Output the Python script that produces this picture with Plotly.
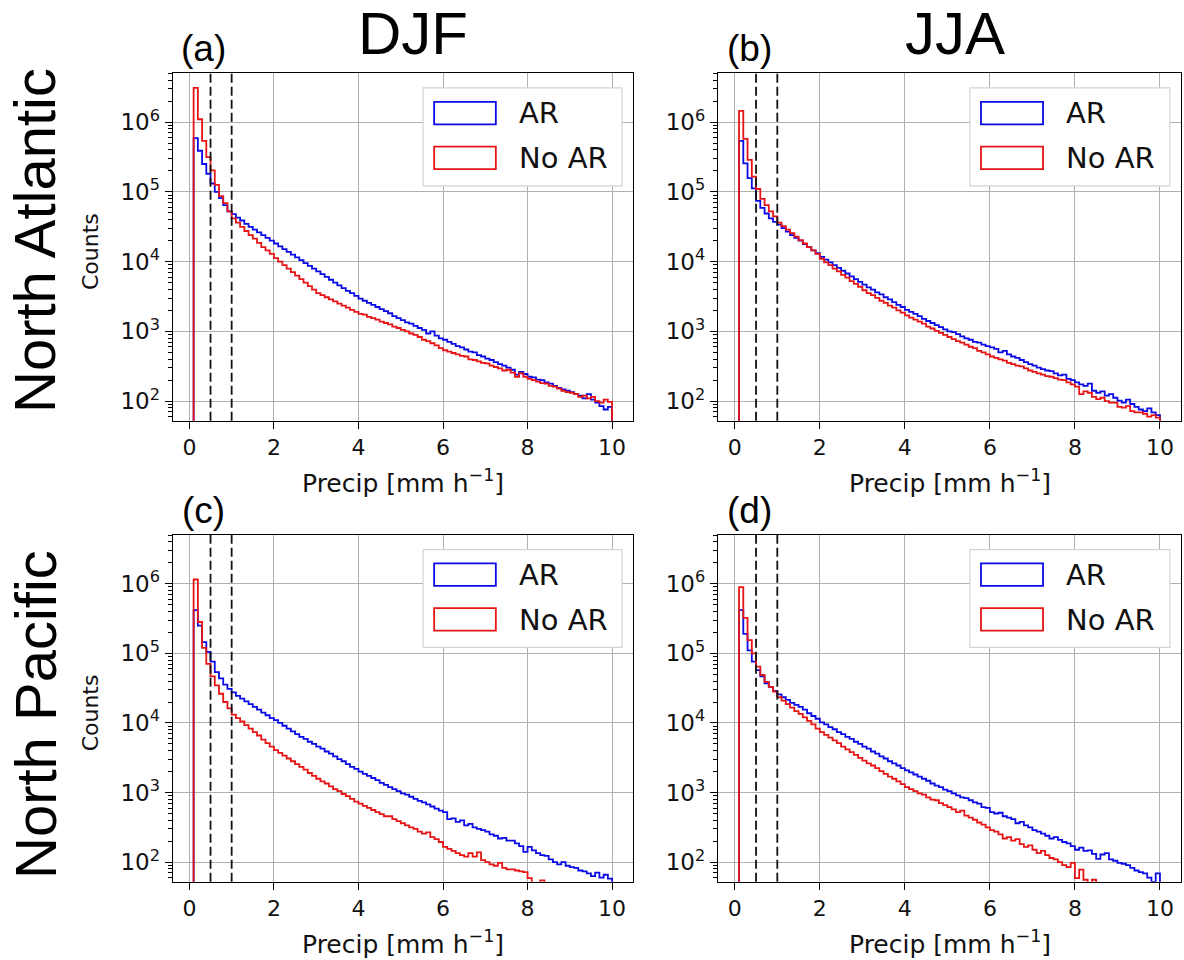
import plotly.graph_objects as go

# ---------------- data (counts per 0.1 mm/h bin, bins from 0.1 to 10.0) ----------------
bin_start = 0.1
bin_width = 0.1
thresholds = [0.5, 1.0]
panel_letters = ["(a)", "(b)", "(c)", "(d)"]
season_titles = ["DJF", "JJA"]
region_titles = ["North Atlantic", "North Pacific"]
series_names = ["AR", "No AR"]
x_tick_vals = [0, 2, 4, 6, 8, 10]
y_tick_vals = [1e2, 1e3, 1e4, 1e5, 1e6]
y_tick_text = ["10<sup>2</sup>", "10<sup>3</sup>", "10<sup>4</sup>", "10<sup>5</sup>", "10<sup>6</sup>"]

na_djf_ar = [5.89e5, 3.89e5, 2.51e5, 1.82e5, 1.32e5, 1.00e5, 8.13e4, 6.46e4, 5.25e4, 4.79e4,
             4.27e4, 3.89e4, 3.47e4, 3.16e4, 2.88e4, 2.63e4, 2.40e4, 2.19e4, 2.00e4, 1.82e4,
             1.66e4, 1.51e4, 1.38e4, 1.26e4, 1.15e4, 1.05e4, 9.55e3, 8.71e3, 7.94e3, 7.24e3,
             6.61e3, 6.03e3, 5.50e3, 5.01e3, 4.57e3, 4.17e3, 3.80e3, 3.55e3, 3.24e3, 2.95e3,
             2.75e3, 2.57e3, 2.40e3, 2.24e3, 2.09e3, 1.95e3, 1.82e3, 1.66e3, 1.55e3, 1.45e3,
             1.35e3, 1.29e3, 1.20e3, 1.12e3, 1.05e3, 933, 1000, 871, 794, 759,
             708, 661, 617, 589, 550, 513, 501, 457, 437, 407,
             389, 363, 339, 324, 302, 282, 240, 263, 245, 224,
             219, 204, 200, 186, 178, 166, 155, 148, 141, 135,
             126, 120, 110, 126, 105, 95, 85, 76, 83]
na_djf_noar = [3.09e6, 1.10e6, 5.37e5, 3.16e5, 2.04e5, 1.26e5, 8.71e4, 6.92e4, 5.25e4, 4.17e4,
               3.63e4, 3.16e4, 2.75e4, 2.40e4, 2.14e4, 1.86e4, 1.62e4, 1.45e4, 1.29e4, 1.12e4,
               1.00e4, 8.91e3, 7.94e3, 7.08e3, 6.31e3, 5.62e3, 5.01e3, 4.47e3, 3.98e3, 3.55e3,
               3.31e3, 3.09e3, 2.88e3, 2.69e3, 2.51e3, 2.34e3, 2.19e3, 2.04e3, 1.91e3, 1.78e3,
               1.74e3, 1.62e3, 1.55e3, 1.48e3, 1.38e3, 1.32e3, 1.26e3, 1.17e3, 1.12e3, 1.05e3,
               1000, 933, 891, 832, 759, 724, 676, 631, 575, 537,
               513, 490, 468, 447, 437, 398, 389, 372, 355, 347,
               324, 309, 295, 275, 282, 257, 224, 251, 224, 209,
               200, 191, 182, 178, 166, 162, 151, 141, 135, 132,
               126, 115, 120, 110, 115, 100, 95, 105, 98]
na_jja_ar = [5.37e5, 2.57e5, 1.58e5, 1.12e5, 7.41e4, 5.89e4, 4.90e4, 4.17e4, 3.72e4, 3.39e4,
             3.02e4, 2.69e4, 2.40e4, 2.19e4, 2.00e4, 1.78e4, 1.62e4, 1.45e4, 1.32e4, 1.17e4,
             1.07e4, 9.77e3, 8.91e3, 8.13e3, 7.41e3, 6.76e3, 6.17e3, 5.62e3, 5.13e3, 4.68e3,
             4.27e3, 3.98e3, 3.63e3, 3.39e3, 3.09e3, 2.88e3, 2.63e3, 2.40e3, 2.24e3, 2.04e3,
             1.91e3, 1.78e3, 1.66e3, 1.51e3, 1.41e3, 1.32e3, 1.23e3, 1.15e3, 1.07e3, 1.00e3,
             977, 912, 851, 794, 759, 708, 692, 646, 617, 589,
             562, 501, 525, 468, 437, 417, 389, 363, 339, 324,
             302, 288, 275, 269, 251, 234, 240, 209, 200, 186,
             174, 166, 178, 141, 132, 138, 120, 126, 112, 102,
             95, 105, 91, 83, 76, 72, 79, 69, 63]
na_jja_noar = [1.45e6, 5.75e5, 2.88e5, 1.66e5, 1.10e5, 7.94e4, 6.46e4, 5.25e4, 4.47e4, 3.63e4,
               3.24e4, 2.88e4, 2.57e4, 2.29e4, 2.04e4, 1.82e4, 1.62e4, 1.45e4, 1.29e4, 1.10e4,
               9.77e3, 8.91e3, 7.94e3, 7.24e3, 6.46e3, 5.89e3, 5.25e3, 4.79e3, 4.37e3, 3.89e3,
               3.55e3, 3.31e3, 3.02e3, 2.75e3, 2.57e3, 2.34e3, 2.19e3, 2.00e3, 1.86e3, 1.70e3,
               1.58e3, 1.48e3, 1.38e3, 1.29e3, 1.17e3, 1.10e3, 1.02e3, 955, 891, 832,
               776, 724, 692, 646, 603, 575, 525, 501, 468, 437,
               417, 398, 380, 355, 339, 324, 316, 295, 275, 263,
               251, 240, 229, 224, 214, 204, 200, 186, 174, 162,
               126, 138, 132, 115, 107, 112, 100, 95, 95, 83,
               81, 85, 72, 69, 69, 66, 60, 63, 58]
np_djf_ar = [4.17e5, 2.51e5, 1.45e5, 1.05e5, 7.59e4, 5.37e4, 4.37e4, 3.55e4, 3.09e4, 2.75e4,
             2.45e4, 2.24e4, 2.04e4, 1.86e4, 1.70e4, 1.55e4, 1.41e4, 1.29e4, 1.17e4, 1.10e4,
             1.00e4, 9.12e3, 8.32e3, 7.59e3, 6.92e3, 6.31e3, 5.89e3, 5.37e3, 5.01e3, 4.57e3,
             4.27e3, 3.89e3, 3.63e3, 3.31e3, 3.02e3, 2.82e3, 2.57e3, 2.34e3, 2.19e3, 2.00e3,
             1.86e3, 1.74e3, 1.62e3, 1.51e3, 1.38e3, 1.29e3, 1.20e3, 1.12e3, 1.05e3, 977,
             933, 871, 813, 759, 724, 676, 631, 589, 550, 525,
             417, 427, 380, 398, 339, 355, 316, 302, 288, 275,
             251, 240, 219, 224, 204, 204, 186, 170, 141, 166,
             148, 135, 126, 123, 110, 100, 93, 100, 89, 85,
             83, 76, 74, 69, 63, 71, 60, 66, 58]
np_djf_noar = [1.15e6, 2.82e5, 1.20e5, 7.08e4, 4.68e4, 3.47e4, 2.63e4, 2.00e4, 1.62e4, 1.32e4,
               1.17e4, 1.05e4, 9.33e3, 8.32e3, 7.41e3, 6.61e3, 5.75e3, 5.13e3, 4.57e3, 4.07e3,
               3.72e3, 3.39e3, 3.09e3, 2.82e3, 2.57e3, 2.34e3, 2.14e3, 1.91e3, 1.74e3, 1.58e3,
               1.45e3, 1.35e3, 1.23e3, 1.12e3, 1.05e3, 955, 891, 813, 741, 692,
               646, 603, 562, 525, 490, 457, 457, 417, 389, 363,
               339, 316, 302, 275, 257, 269, 229, 214, 195, 166,
               155, 145, 135, 126, 120, 135, 120, 138, 107, 100,
               93, 89, 98, 83, 79, 79, 76, 74, 72, 59,
               49, 46, 55, 46, 42, 40, 38, 35, 33, 32,
               30, 29, 28, 26, 25, 24, 22, 21, 20]
np_jja_ar = [4.17e5, 1.91e5, 1.10e5, 7.59e4, 5.75e4, 4.68e4, 3.72e4, 3.31e4, 2.88e4, 2.57e4,
             2.34e4, 2.14e4, 1.95e4, 1.82e4, 1.70e4, 1.55e4, 1.38e4, 1.26e4, 1.15e4, 1.02e4,
             9.55e3, 8.71e3, 8.13e3, 7.41e3, 6.92e3, 6.31e3, 5.89e3, 5.37e3, 5.01e3, 4.57e3,
             4.27e3, 3.89e3, 3.63e3, 3.31e3, 3.09e3, 2.82e3, 2.63e3, 2.45e3, 2.24e3, 2.09e3,
             1.95e3, 1.82e3, 1.70e3, 1.58e3, 1.48e3, 1.35e3, 1.26e3, 1.20e3, 1.10e3, 1.05e3,
             977, 912, 851, 832, 776, 724, 692, 617, 603, 525,
             501, 513, 457, 437, 417, 363, 380, 339, 316, 288,
             275, 257, 240, 219, 229, 209, 195, 186, 170, 151,
             162, 145, 148, 132, 112, 129, 135, 110, 105, 98,
             95, 91, 83, 76, 72, 69, 60, 52, 69]
np_jja_noar = [8.91e5, 3.24e5, 1.55e5, 1.00e5, 6.46e4, 4.90e4, 3.89e4, 3.31e4, 2.82e4, 2.34e4,
               2.09e4, 1.86e4, 1.66e4, 1.48e4, 1.35e4, 1.20e4, 1.07e4, 9.55e3, 8.32e3, 7.41e3,
               6.76e3, 6.17e3, 5.62e3, 5.13e3, 4.57e3, 4.17e3, 3.80e3, 3.47e3, 3.16e3, 2.88e3,
               2.63e3, 2.45e3, 2.24e3, 2.04e3, 1.86e3, 1.70e3, 1.58e3, 1.45e3, 1.32e3, 1.20e3,
               1.12e3, 1.05e3, 977, 933, 851, 794, 776, 708, 661, 617,
               575, 525, 550, 468, 437, 407, 372, 347, 316, 288,
               275, 251, 219, 229, 204, 214, 182, 166, 174, 151,
               135, 145, 126, 115, 110, 100, 91, 85, 98, 59,
               78, 56, 50, 56, 42, 40, 38, 35, 33, 32,
               30, 29, 28, 26, 25, 24, 23, 22, 21]

panels = [
    (na_djf_ar, na_djf_noar),
    (na_jja_ar, na_jja_noar),
    (np_djf_ar, np_djf_noar),
    (np_jja_ar, np_jja_noar),
]

# ---------------- layout geometry ----------------
W, H = 1184, 960
col_x = [(172.7 / W, 633 / W), (718 / W, 1181 / W)]
row_y = [(1 - 420.7 / H, 1 - 73.3 / H), (1 - 881.7 / H, 1 - 535 / H)]
x_range = [-0.395, 10.495]
y_range = [1.72, 6.70]
colors = ["#0a0ae6", "#e61414"]
baseline = 1.0

X_TICK_FONT = dict(family="DejaVu Sans", size=22, color="#111111")
Y_TICK_FONT = dict(family="DejaVu Sans", size=23, color="#111111")
minor_vals = [m * 10 ** e for e in range(1, 7) for m in range(2, 10)]

fig = go.Figure()
layout = dict(
    width=W, height=H,
    margin=dict(l=0, r=0, t=0, b=0),
    paper_bgcolor="white", plot_bgcolor="white",
    showlegend=False,
    font=dict(family="DejaVu Sans", color="#111111"),
)

shapes = []
annotations = []

for p, (ar, noar) in enumerate(panels):
    r, c = divmod(p, 2)
    k = p + 1
    xa = "x" if k == 1 else f"x{k}"
    ya = "y" if k == 1 else f"y{k}"
    xkey = "xaxis" if k == 1 else f"xaxis{k}"
    ykey = "yaxis" if k == 1 else f"yaxis{k}"

    n = len(ar)
    edges = [round(bin_start + bin_width * i, 2) for i in range(n + 1)]
    for s, counts in enumerate((ar, noar)):
        xs = [edges[0]] + edges[:-1] + [edges[-1], edges[-1]]
        ys = [baseline] + list(counts) + [counts[-1], baseline]
        fig.add_trace(go.Scatter(
            x=xs, y=ys, mode="lines", line=dict(color=colors[s], width=1.8, shape="hv"),
            name=series_names[s], xaxis=xa, yaxis=ya, hoverinfo="skip",
        ))

    layout[xkey] = dict(
        domain=list(col_x[c]), anchor=ya, range=x_range,
        tickmode="array", tickvals=x_tick_vals, ticktext=[str(v) for v in x_tick_vals],
        ticks="outside", ticklen=7, tickwidth=1.3, tickcolor="black",
        showline=True, linecolor="black", linewidth=1.3, mirror=True,
        showgrid=True, gridcolor="#b0b0b0", gridwidth=1.2, zeroline=False,
        tickfont=X_TICK_FONT,
    )
    layout[ykey] = dict(
        domain=list(row_y[r]), anchor=xa, type="log", range=y_range,
        tickmode="array", tickvals=y_tick_vals, ticktext=y_tick_text,
        ticks="outside", ticklen=7, tickwidth=1.3, tickcolor="black",
        showline=True, linecolor="black", linewidth=1.3, mirror=True,
        showgrid=True, gridcolor="#b0b0b0", gridwidth=1.2, zeroline=False,
        tickfont=Y_TICK_FONT,
        minor=dict(tickmode="array", tickvals=minor_vals, ticks="outside", ticklen=4,
                   tickwidth=1, tickcolor="black", showgrid=False),
    )

    # dashed threshold lines
    for t in thresholds:
        shapes.append(dict(type="line", xref=xa, yref=f"{ya} domain", x0=t, x1=t, y0=0, y1=1,
                           line=dict(color="#111111", width=1.8, dash="9px,4px"), layer="above"))

    # legend box
    shapes.append(dict(type="rect", xref=f"{xa} domain", yref=f"{ya} domain",
                       x0=0.544, x1=0.976, y0=0.676, y1=0.958,
                       line=dict(color="#d4d4d4", width=1.2), fillcolor="white", layer="above"))
    for s, (y0, y1, yt) in enumerate([(0.853, 0.918, 0.886), (0.724, 0.789, 0.756)]):
        shapes.append(dict(type="rect", xref=f"{xa} domain", yref=f"{ya} domain",
                           x0=0.568, x1=0.702, y0=y0, y1=y1,
                           line=dict(color=colors[s], width=1.8), fillcolor="rgba(0,0,0,0)",
                           layer="above"))
        annotations.append(dict(xref=f"{xa} domain", yref=f"{ya} domain", x=0.748, y=yt,
                                text=series_names[s], showarrow=False, xanchor="left",
                                yanchor="middle",
                                font=dict(family="DejaVu Sans", size=29, color="#111111")))

    # axis labels
    x_center = (col_x[c][0] + col_x[c][1]) / 2
    annotations.append(dict(xref="paper", yref="paper", x=x_center,
                            y=row_y[r][0] - 61 / H,
                            text="Precip [mm h<sup>−1</sup>]", showarrow=False,
                            xanchor="center", yanchor="middle",
                            font=dict(family="DejaVu Sans", size=25, color="#111111")))
    if c == 0:
        annotations.append(dict(xref="paper", yref="paper", x=90 / W,
                                y=(row_y[r][0] + row_y[r][1]) / 2 - 5 / H,
                                text="Counts", textangle=-90, showarrow=False,
                                xanchor="center", yanchor="middle",
                                font=dict(family="DejaVu Sans", size=22, color="#111111")))

    # panel letters
    annotations.append(dict(xref="paper", yref="paper",
                            x=col_x[c][0] + 31 / W, y=row_y[r][1] + 25 / H,
                            text=panel_letters[p], showarrow=False,
                            xanchor="center", yanchor="middle",
                            font=dict(family="Liberation Sans", size=37, color="black")))

for c, t in enumerate(season_titles):
    annotations.append(dict(xref="paper", yref="paper",
                            x=[412.5, 955][c] / W, y=1 - 33 / H, text=t, showarrow=False,
                            xanchor="center", yanchor="middle",
                            font=dict(family="Liberation Sans", size=60, color="black")))
for r, t in enumerate(region_titles):
    annotations.append(dict(xref="paper", yref="paper", x=35 / W,
                            y=1 - [241, 715][r] / H, text=t, textangle=-90, showarrow=False,
                            xanchor="center", yanchor="middle",
                            font=dict(family="Liberation Sans", size=58, color="black")))

layout["shapes"] = shapes
layout["annotations"] = annotations
fig.update_layout(**layout)
fig.write_html("out.html", config={"displayModeBar": False},
               post_script="document.body.style.margin='0';document.body.style.overflow='hidden';")
